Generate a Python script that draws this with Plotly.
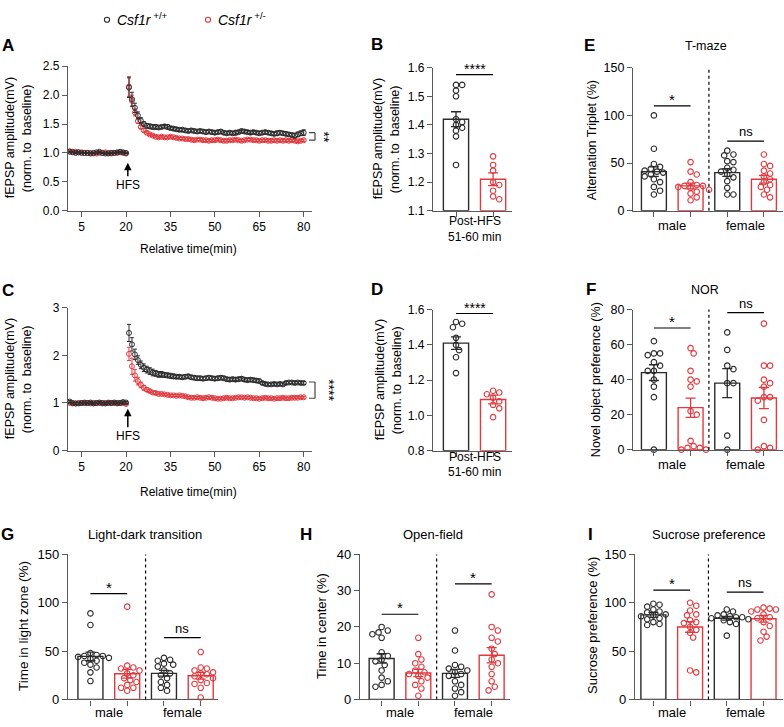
import plotly.graph_objects as go

W, H = 784, 727
RED = "#E0393E"
BLK = "#2b2b2b"
AXC = "#5a5a5a"
FONT = "Liberation Sans, Arial, Helvetica, sans-serif"

# ---------------- DATA ----------------
time_min = [1, 2, 3, 4, 5, 6, 7, 8, 9, 10, 11, 12, 13, 14, 15, 16, 17, 18, 19, 20,
            21, 22, 23, 24, 25, 26, 27, 28, 29, 30, 31, 32, 33, 34, 35, 36, 37, 38, 39, 40,
            41, 42, 43, 44, 45, 46, 47, 48, 49, 50, 51, 52, 53, 54, 55, 56, 57, 58, 59, 60,
            61, 62, 63, 64, 65, 66, 67, 68, 69, 70, 71, 72, 73, 74, 75, 76, 77, 78, 79, 80]

A_wt = [1.02, 1.01, 1.00, 1.01, 1.00, 1.00, 1.00, 0.99, 1.00, 1.01,
        1.02, 1.00, 0.99, 0.99, 1.00, 1.00, 1.01, 1.02, 1.01, 1.00,
        2.13, 1.93, 1.78, 1.65, 1.56, 1.50, 1.47, 1.46, 1.45, 1.45,
        1.44, 1.45, 1.46, 1.45, 1.43, 1.42, 1.41, 1.40, 1.40, 1.39,
        1.38, 1.39, 1.38, 1.37, 1.38, 1.37, 1.36, 1.37, 1.36, 1.35,
        1.36, 1.37, 1.35, 1.34, 1.35, 1.34, 1.35, 1.36, 1.38, 1.37,
        1.36, 1.35, 1.36, 1.35, 1.34, 1.35, 1.36, 1.35, 1.34, 1.33,
        1.34, 1.35, 1.34, 1.33, 1.32, 1.31, 1.30, 1.32, 1.34, 1.35]
A_wt_sem = [0.01, 0.01, 0.01, 0.01, 0.01, 0.01, 0.01, 0.01, 0.01, 0.01,
            0.01, 0.01, 0.01, 0.01, 0.01, 0.01, 0.01, 0.01, 0.01, 0.01,
            0.17, 0.12, 0.08, 0.06, 0.05, 0.04, 0.04, 0.04, 0.04, 0.04,
            0.03, 0.03, 0.03, 0.04, 0.03, 0.03, 0.03, 0.03, 0.03, 0.03,
            0.03, 0.03, 0.03, 0.03, 0.03, 0.03, 0.03, 0.03, 0.03, 0.03,
            0.03, 0.03, 0.03, 0.03, 0.03, 0.03, 0.04, 0.03, 0.03, 0.03,
            0.03, 0.03, 0.03, 0.03, 0.03, 0.03, 0.03, 0.03, 0.03, 0.03,
            0.04, 0.03, 0.03, 0.03, 0.03, 0.03, 0.04, 0.04, 0.04, 0.05]
A_het = [1.03, 1.02, 1.02, 1.01, 1.01, 1.00, 1.00, 1.00, 0.99, 0.99,
         1.00, 1.00, 1.01, 1.00, 0.99, 1.00, 1.00, 1.01, 1.00, 0.99,
         2.15, 1.90, 1.70, 1.55, 1.45, 1.39, 1.35, 1.32, 1.30, 1.28,
         1.27, 1.28, 1.27, 1.27, 1.28, 1.27, 1.26, 1.25, 1.25, 1.24,
         1.24, 1.23, 1.22, 1.23, 1.23, 1.22, 1.22, 1.21, 1.22, 1.22,
         1.23, 1.22, 1.21, 1.21, 1.22, 1.22, 1.23, 1.22, 1.21, 1.22,
         1.23, 1.23, 1.22, 1.22, 1.21, 1.22, 1.22, 1.21, 1.21, 1.22,
         1.21, 1.22, 1.21, 1.22, 1.21, 1.22, 1.21, 1.20, 1.21, 1.22]
A_het_sem = [0.01, 0.01, 0.01, 0.01, 0.01, 0.01, 0.01, 0.01, 0.01, 0.01,
             0.01, 0.01, 0.01, 0.01, 0.01, 0.01, 0.01, 0.01, 0.01, 0.01,
             0.17, 0.10, 0.06, 0.04, 0.03, 0.03, 0.02, 0.02, 0.02, 0.02,
             0.02, 0.02, 0.02, 0.02, 0.02, 0.02, 0.02, 0.02, 0.02, 0.02,
             0.02, 0.02, 0.02, 0.02, 0.02, 0.02, 0.02, 0.02, 0.02, 0.02,
             0.02, 0.02, 0.02, 0.02, 0.02, 0.02, 0.02, 0.02, 0.02, 0.02,
             0.02, 0.02, 0.02, 0.02, 0.02, 0.02, 0.02, 0.02, 0.02, 0.02,
             0.02, 0.02, 0.02, 0.02, 0.02, 0.02, 0.02, 0.02, 0.02, 0.02]

C_wt = [1.03, 1.00, 0.99, 0.99, 1.00, 1.00, 1.00, 1.01, 0.99, 1.00,
        1.01, 1.00, 0.99, 1.00, 1.00, 1.01, 1.00, 1.00, 1.02, 1.01,
        2.47, 2.23, 2.02, 1.90, 1.80, 1.74, 1.70, 1.67, 1.64, 1.62,
        1.60, 1.60, 1.59, 1.58, 1.57, 1.56, 1.55, 1.55, 1.54, 1.55,
        1.56, 1.54, 1.53, 1.52, 1.52, 1.51, 1.52, 1.53, 1.52, 1.51,
        1.52, 1.53, 1.52, 1.50, 1.49, 1.50, 1.49, 1.50, 1.51, 1.49,
        1.48, 1.49, 1.48, 1.47, 1.46, 1.42, 1.40, 1.39, 1.39, 1.40,
        1.39, 1.40, 1.39, 1.42, 1.43, 1.43, 1.42, 1.43, 1.42, 1.42]
C_wt_sem = [0.02, 0.02, 0.02, 0.02, 0.02, 0.02, 0.02, 0.02, 0.02, 0.02,
            0.02, 0.02, 0.02, 0.02, 0.02, 0.02, 0.02, 0.02, 0.02, 0.02,
            0.18, 0.14, 0.11, 0.09, 0.08, 0.08, 0.07, 0.07, 0.07, 0.06,
            0.06, 0.06, 0.05, 0.05, 0.05, 0.05, 0.04, 0.04, 0.04, 0.04,
            0.04, 0.04, 0.04, 0.04, 0.04, 0.04, 0.04, 0.04, 0.04, 0.04,
            0.04, 0.04, 0.04, 0.04, 0.04, 0.04, 0.04, 0.04, 0.04, 0.04,
            0.04, 0.04, 0.04, 0.04, 0.04, 0.03, 0.03, 0.03, 0.03, 0.03,
            0.03, 0.03, 0.03, 0.03, 0.03, 0.03, 0.03, 0.03, 0.03, 0.03]
C_het = [1.00, 0.99, 0.99, 1.00, 1.00, 1.01, 1.00, 0.99, 1.00, 1.00,
         1.00, 0.99, 1.00, 1.01, 1.00, 1.00, 0.99, 1.00, 1.00, 0.98,
         2.03, 1.77, 1.58, 1.46, 1.38, 1.32, 1.28, 1.25, 1.22, 1.21,
         1.19, 1.19, 1.18, 1.17, 1.16, 1.16, 1.15, 1.16, 1.15, 1.14,
         1.12, 1.11, 1.11, 1.12, 1.11, 1.10, 1.11, 1.12, 1.11, 1.10,
         1.09, 1.09, 1.10, 1.11, 1.10, 1.10, 1.11, 1.12, 1.12, 1.11,
         1.12, 1.11, 1.10, 1.10, 1.09, 1.10, 1.11, 1.10, 1.10, 1.09,
         1.10, 1.10, 1.11, 1.10, 1.10, 1.11, 1.11, 1.11, 1.12, 1.12]
C_het_sem = [0.02, 0.02, 0.02, 0.02, 0.02, 0.02, 0.02, 0.02, 0.02, 0.02,
             0.02, 0.02, 0.02, 0.02, 0.02, 0.02, 0.02, 0.02, 0.02, 0.02,
             0.14, 0.17, 0.12, 0.08, 0.06, 0.05, 0.04, 0.03, 0.03, 0.03,
             0.02, 0.02, 0.02, 0.02, 0.02, 0.02, 0.02, 0.02, 0.02, 0.02,
             0.02, 0.02, 0.02, 0.02, 0.02, 0.02, 0.02, 0.02, 0.02, 0.02,
             0.02, 0.02, 0.02, 0.02, 0.02, 0.02, 0.02, 0.02, 0.02, 0.02,
             0.02, 0.02, 0.02, 0.02, 0.02, 0.02, 0.02, 0.02, 0.02, 0.02,
             0.02, 0.02, 0.02, 0.02, 0.02, 0.02, 0.02, 0.02, 0.02, 0.02]

# Post-HFS 51-60 min summary (B, D)
B_means = [1.42, 1.21]
B_sems = [0.026, 0.022]
B_pts = [[1.54, 1.54, 1.52, 1.50, 1.42, 1.41, 1.40, 1.39, 1.38, 1.36, 1.26],
         [1.29, 1.26, 1.24, 1.20, 1.19, 1.17, 1.14, 1.15]]
D_means = [1.41, 1.09]
D_sems = [0.035, 0.025]
D_pts = [[1.53, 1.52, 1.50, 1.44, 1.40, 1.37, 1.33, 1.24],
         [1.14, 1.13, 1.12, 1.10, 1.08, 1.06, 1.04, 0.99]]

# Behaviour (order: male +/+, male +/-, female +/+, female +/-)
E_means = [41, 26, 40, 33]
E_sems = [5, 3, 4, 4]
E_pts = [[100, 65, 49, 46, 44, 42, 41, 40, 38, 36, 33, 30, 25, 21, 17],
         [51, 41, 38, 30, 27, 26, 26, 25, 24, 22, 20, 18, 14, 11],
         [63, 59, 58, 52, 51, 45, 43, 41, 38, 35, 31, 24, 17, 17],
         [59, 49, 47, 42, 39, 36, 33, 30, 27, 25, 22, 17, 14]]
F_means = [44, 24, 38, 29.5]
F_sems = [4.5, 5.5, 8.3, 6]
F_pts = [[62, 55, 55, 54, 50, 48, 45, 45, 40, 36, 30, 0],
         [58, 55, 45, 40, 39, 36, 22, 20, 5, 2, 1, 1, 0, 0],
         [67, 57, 48, 46, 38, 38, 8, 0],
         [72, 48, 48, 40, 38, 36, 30, 30, 28, 17, 1, 2, 0]]
G_means = [44.5, 26.5, 27, 24.5]
G_sems = [4.5, 4.5, 3, 3.5]
G_pts = [[89, 77, 48, 46, 45, 45, 44, 43, 42, 40, 38, 36, 33, 28, 19],
         [96, 35, 33, 32, 30, 27, 25, 22, 20, 18, 15, 12, 12, 9],
         [43, 41, 40, 37, 36, 34, 30, 27, 25, 22, 18, 15, 12, 9],
         [49, 33, 32, 30, 28, 27, 26, 24, 22, 20, 17, 16, 12, 2]]
H_means = [11.3, 7.3, 7.2, 12.2]
H_sems = [1.3, 1.0, 1.1, 2.1]
H_pts = [[20, 19, 18.5, 18, 17, 13, 12, 11, 10.5, 9.5, 8, 6, 5, 4, 3.5],
         [17, 12.5, 11, 10, 9, 8, 7.5, 7, 6.5, 6, 5, 4, 3, 1],
         [19, 13.5, 9.5, 9, 8.5, 8, 7.5, 7, 6.5, 5, 4, 3, 2, 1],
         [29, 20, 19, 17, 16, 14, 12.5, 11, 10, 9, 7, 5, 3.5, 2.5]]
I_means = [87.5, 75, 84, 83.5]
I_sems = [2.5, 5.5, 2, 3.5]
I_pts = [[99, 98, 96, 93, 91, 90, 88, 87, 86, 84, 83, 80, 78, 77],
         [100, 97, 92, 88, 87, 82, 80, 79, 75, 72, 69, 64, 30, 28],
         [93, 91, 88, 87, 86, 85, 85, 84, 83, 82, 80, 78, 66],
         [95, 94, 93, 93, 91, 88, 85, 84, 80, 76, 70, 65, 61]]

sex_labels = ["male", "female"]
legend_names = ["<i>Csf1r</i><sup> +/+</sup>", "<i>Csf1r</i><sup> +/-</sup>"]

# ---------------- LAYOUT HELPERS ----------------
def PX(x):
    return x / W


def PY(y):
    return 1 - y / H


fig = go.Figure()
layout = dict(width=W, height=H, margin=dict(l=0, r=0, t=0, b=0),
              paper_bgcolor="white", plot_bgcolor="white", showlegend=False,
              font=dict(family=FONT, color="black"))
annotations = []
shapes = []

panels = {
    "A": (1, (68, 312), (60.5, 208), [0.4, 82.8], [0, 2.5], [0, 0.5, 1.0, 1.5, 2.0, 2.5], "{:.1f}", 12),
    "B": (2, (433, 512), (62, 208), [-0.62, 1.51], [1.1, 1.6], [1.1, 1.2, 1.3, 1.4, 1.5, 1.6], "{:.1f}", 12),
    "C": (3, (68, 312), (307, 453), [0.4, 82.8], [0, 3], [0, 1, 2, 3], "{:d}", 12),
    "D": (4, (433, 512), (309, 453), [-0.62, 1.51], [0.8, 1.6], [0.8, 1.0, 1.2, 1.4, 1.6], "{:.1f}", 12),
    "E": (5, (633, 783), (62, 208), [-0.57, 3.52], [0, 150], [0, 50, 100, 150], "{:d}", 12.5),
    "F": (6, (633, 783), (309, 452), [-0.57, 3.52], [0, 80], [0, 20, 40, 60, 80], "{:d}", 12.5),
    "G": (7, (68, 218), (559, 707), [-0.61, 3.47], [0, 150], [0, 50, 100, 150], "{:d}", 13),
    "H": (8, (360, 510), (559, 707), [-0.59, 3.5], [0, 40], [0, 10, 20, 30, 40], "{:d}", 13),
    "I": (9, (635, 783), (559, 707), [-0.5, 3.53], [0, 150], [0, 50, 100, 150], "{:d}", 13),
}


def axnames(k):
    s = "" if k == 1 else str(k)
    return "x" + s, "y" + s, "xaxis" + s, "yaxis" + s


for key, (k, (x0, x1), (y0, y1), xr, yr, yt, fmt, fs) in panels.items():
    xn, yn, xa, ya = axnames(k)
    common = dict(showline=True, linecolor=AXC, linewidth=1.3, ticks="outside", ticklen=5,
                  tickcolor=AXC, tickwidth=1.3, showgrid=False, zeroline=False,
                  tickfont=dict(size=fs, color="black", family=FONT), fixedrange=True)
    if key in ("A", "C"):
        xticks = dict(tickmode="array", tickvals=[5, 20, 35, 50, 65, 80],
                      ticktext=["5", "20", "35", "50", "65", "80"])
    elif key in ("B", "D"):
        xticks = dict(tickmode="array", tickvals=[0, 1], showticklabels=False)
    else:
        xticks = dict(tickmode="array", tickvals=[0, 1, 2, 3], showticklabels=False)
    layout[xa] = dict(domain=[PX(x0), PX(x1)], range=xr, anchor=yn, **xticks, **common)
    layout[ya] = dict(domain=[PY(y1), PY(y0)], range=yr, anchor=xn, tickmode="array",
                      tickvals=yt, ticktext=[fmt.format(v) for v in yt], **common)


def ann(text, x, y, size=12, xref="paper", yref="paper", **kw):
    d = dict(text=text, x=x, y=y, xref=xref, yref=yref, showarrow=False,
             xanchor=kw.pop("xanchor", "center"), yanchor=kw.pop("yanchor", "middle"),
             font=dict(size=size, family=FONT, color=kw.pop("color", "black")))
    d.update(kw)
    annotations.append(d)


# ---------------- TIME COURSES (A, C) ----------------
for key, wt, wts, het, hets in (("A", A_wt, A_wt_sem, A_het, A_het_sem),
                                ("C", C_wt, C_wt_sem, C_het, C_het_sem)):
    k = panels[key][0]
    xn, yn, _, _ = axnames(k)
    for vals, sems, col in ((het, hets, RED), (wt, wts, BLK)):
        fig.add_trace(go.Scatter(
            x=time_min, y=vals, mode="markers", xaxis=xn, yaxis=yn,
            marker=dict(symbol="circle-open", size=5, color=col, line=dict(width=1, color=col)),
            error_y=dict(type="data", array=sems, visible=True, color=col, thickness=1, width=2)))

for key, tip_val, ay in (("A", 0.83, 22), ("C", 0.88, 27)):
    k = panels[key][0]
    xn, yn, _, _ = axnames(k)
    annotations.append(dict(text="HFS", x=20.6, y=tip_val, xref=xn, yref=yn, showarrow=True,
                            ax=0, ay=ay, arrowhead=2, arrowsize=1, arrowwidth=1.5,
                            arrowcolor="black", font=dict(size=12, family=FONT, color="black")))

for key, v_top, v_bot, star, sx in (("A", A_wt[-1], A_het[-1], "**", 324),
                                    ("C", C_wt[-1] + 0.02, C_het[-1] - 0.02, "****", 329)):
    k = panels[key][0]
    _, yn, _, _ = axnames(k)
    bx0, bx1 = PX(309), PX(315)
    for (xa_, xb_, ya_, yb_) in ((bx1, bx1, v_bot, v_top), (bx0, bx1, v_top, v_top),
                                 (bx0, bx1, v_bot, v_bot)):
        shapes.append(dict(type="line", xref="paper", yref=yn, x0=xa_, x1=xb_, y0=ya_, y1=yb_,
                           line=dict(color="#444", width=1.2)))
    ann(star, PX(sx), (v_top + v_bot) / 2, 14, yref=yn, textangle=90)


# ---------------- BAR + DOT PANELS ----------------
def swarm(vals, ypx, xpx, d=5.6):
    order = sorted(range(len(vals)), key=lambda i: -vals[i])
    placed = []
    offs = [0.0] * len(vals)
    step = d * 0.55
    cands = [0.0]
    for j in range(1, 12):
        cands += [j * step, -j * step]
    for i in order:
        yv = vals[i] * ypx
        for c in cands:
            if all((c - a) ** 2 + (yv - b) ** 2 >= d * d for a, b in placed):
                break
        placed.append((c, yv))
        offs[i] = c / xpx
    return offs


def bar_panel(key, means, sems, pts, positions):
    k, (x0, x1), (y0, y1), xr, yr = panels[key][:5]
    xn, yn, _, _ = axnames(k)
    xpx = (x1 - x0) / (xr[1] - xr[0])
    ypx = (y1 - y0) / (yr[1] - yr[0])
    for gi, col in ((0, BLK), (1, RED)):
        idx = [i for i in range(len(means)) if i % 2 == gi]
        fig.add_trace(go.Bar(
            x=[positions[i] for i in idx],
            y=[means[i] - yr[0] for i in idx], base=[yr[0] for _ in idx], width=0.68,
            xaxis=xn, yaxis=yn,
            marker=dict(color="rgba(255,255,255,0)", line=dict(color=col, width=1.4)),
            error_y=dict(type="data", array=[sems[i] for i in idx], visible=True,
                         color=col, thickness=1.3, width=5)))
    for i, vals in enumerate(pts):
        col = BLK if i % 2 == 0 else RED
        offs = swarm(vals, ypx, xpx)
        fig.add_trace(go.Scatter(
            x=[positions[i] + o for o in offs], y=vals, mode="markers", xaxis=xn, yaxis=yn,
            cliponaxis=False,
            marker=dict(symbol="circle-open", size=5.5, color=col, line=dict(width=1.1, color=col))))


bar_panel("B", B_means, B_sems, B_pts, [0, 1])
bar_panel("D", D_means, D_sems, D_pts, [0, 1])
for key, m, s, p in (("E", E_means, E_sems, E_pts), ("F", F_means, F_sems, F_pts),
                     ("G", G_means, G_sems, G_pts), ("H", H_means, H_sems, H_pts),
                     ("I", I_means, I_sems, I_pts)):
    bar_panel(key, m, s, p, [0, 1, 2, 3])
    k = panels[key][0]
    xn, yn, _, _ = axnames(k)
    shapes.append(dict(type="line", xref=xn, yref=yn + " domain", x0=1.5, x1=1.5, y0=0, y1=1,
                       line=dict(color="black", width=1.2, dash="dot")))


def sig(key, xa, xb, yv, text, size):
    k = panels[key][0]
    xn, yn, _, _ = axnames(k)
    shapes.append(dict(type="line", xref=xn, yref=yn, x0=xa, x1=xb, y0=yv, y1=yv,
                       line=dict(color="black", width=1.2)))
    ys = -4 if text.startswith("*") else 0
    annotations.append(dict(text=text, x=(xa + xb) / 2, y=yv, xref=xn, yref=yn, showarrow=False,
                            xanchor="center", yanchor="bottom", yshift=ys,
                            font=dict(size=size, family=FONT, color="black")))


sig("B", 0, 1, 1.576, "****", 14)
sig("D", 0, 1, 1.578, "****", 14)
sig("E", 0, 1, 110, "*", 15)
sig("E", 2, 3, 73, "ns", 13)
sig("F", 0, 1, 69.5, "*", 15)
sig("F", 2, 3, 78.3, "ns", 13)
sig("G", 0, 1, 109.5, "*", 15)
sig("G", 2, 3, 64, "ns", 13)
sig("H", 0, 1, 23.5, "*", 15)
sig("H", 2, 3, 31.9, "*", 15)
sig("I", 0, 1, 113, "*", 15)
sig("I", 2, 3, 111, "ns", 13)

for key, ypix in (("E", 223), ("F", 467), ("G", 720), ("H", 720), ("I", 720)):
    k = panels[key][0]
    xn, _, _, _ = axnames(k)
    for xv, lab in ((0.5, sex_labels[0]), (2.5, sex_labels[1])):
        ann(lab, xv, PY(ypix), 13, xref=xn)
for key, ypix in (("B", 219), ("D", 459)):
    k = panels[key][0]
    xn, _, _, _ = axnames(k)
    ann("Post-HFS", 0.5, PY(ypix), 12, xref=xn)
    ann("51-60 min", 0.5, PY(ypix + 16), 12, xref=xn)

# axis titles
ann("Relative time(min)", PX(188), PY(247), 12)
ann("Relative time(min)", PX(188), PY(495), 12)
for xp, yp in ((10, 134), (378, 135), (10, 380), (380, 381)):
    ann("fEPSP amplitude(mV)", PX(xp), PY(yp), 12.5, textangle=-90)
    ann("(norm. to  baseline)", PX(xp + 17), PY(yp), 12.5, textangle=-90)
ann("Alternation Triplet (%)", PX(592), PY(136), 12.5, textangle=-90)
ann("Novel object preference (%)", PX(596), PY(381), 12.5, textangle=-90)
ann("Time in light zone (%)", PX(24), PY(632), 13.5, textangle=-90)
ann("Time in center (%)", PX(322), PY(632), 13, textangle=-90)
ann("Sucrose preference (%)", PX(593), PY(632), 13, textangle=-90)

ann("T-maze", PX(706), PY(40), 12.5)
ann("NOR", PX(705), PY(289), 12.5)
ann("Light-dark transition", PX(145), PY(539), 13)
ann("Open-field", PX(433), PY(539), 13)
ann("Sucrose preference", PX(708), PY(539), 13)

for lt, xp, yp in (("A", 8, 39), ("B", 377, 38), ("C", 8, 289), ("D", 377, 288), ("E", 589, 39),
                   ("F", 591, 288), ("G", 8, 539), ("H", 306, 539), ("I", 590, 539)):
    ann("<b>" + lt + "</b>", PX(xp), PY(yp), 17)

for (cx, col), name in zip(((107, BLK), (208, RED)), legend_names):
    shapes.append(dict(type="circle", xref="paper", yref="paper",
                       x0=PX(cx - 2.6), x1=PX(cx + 2.6), y0=PY(13 + 2.6), y1=PY(13 - 2.6),
                       line=dict(color=col, width=1.1)))
    ann(name, PX(cx + 8), PY(12), 14, xanchor="left")

layout["annotations"] = annotations
layout["shapes"] = shapes
fig.update_layout(**layout)
fig.write_html("out.html", config={"displayModeBar": False},
               post_script="document.body.style.margin='0';document.body.style.overflow='hidden';")
